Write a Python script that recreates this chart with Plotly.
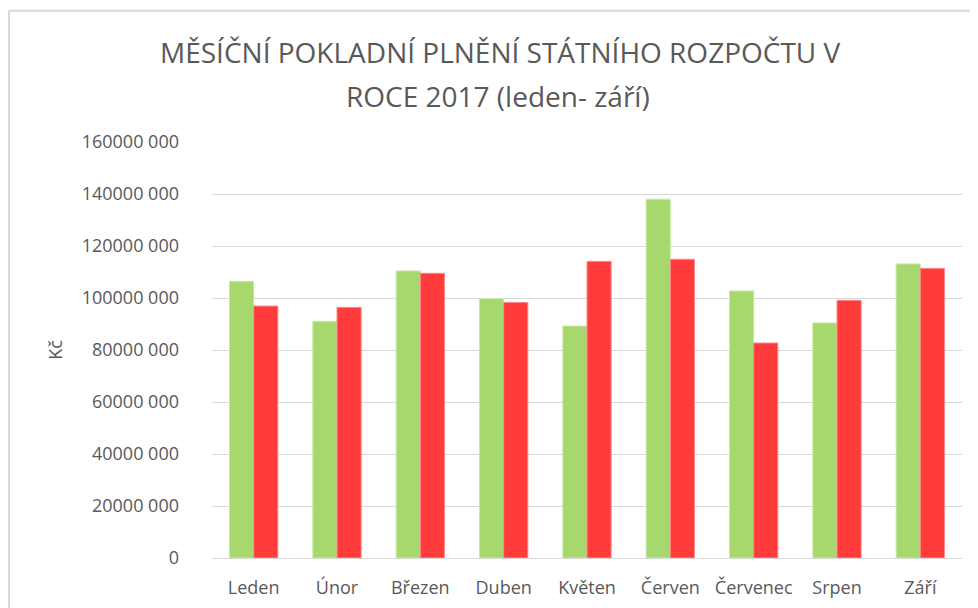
import plotly.graph_objects as go

months = ["Leden", "Únor", "Březen", "Duben", "Květen", "Červen", "Červenec", "Srpen", "Září"]
series_green = [106.4e6, 91.0e6, 110.4e6, 99.7e6, 89.2e6, 138.0e6, 102.7e6, 90.4e6, 113.1e6]
series_red = [96.9e6, 96.4e6, 109.5e6, 98.3e6, 114.1e6, 114.9e6, 82.7e6, 99.1e6, 111.4e6]
y_tickvals = [0, 20e6, 40e6, 60e6, 80e6, 100e6, 120e6, 140e6, 160e6]
y_ticktext = ["0", "20000 000", "40000 000", "60000 000", "80000 000",
              "100000 000", "120000 000", "140000 000", "160000 000"]
title_lines = ["MĚSÍČNÍ POKLADNÍ PLNĚNÍ STÁTNÍHO ROZPOČTU V", "ROCE 2017 (leden- září)"]
y_title = "Kč"

FONT = "Open Sans, DejaVu Sans, sans-serif"
GRAY = "#595959"

# page body has an 8px margin; work in reference pixel coords and shift
OFF = 8
W, H = 978 - OFF, 608 - OFF
px_left, px_right, px_top, px_bottom = 212, 962, 142.3, 558.3
L = px_left - OFF
R = W - (px_right - OFF)
T = px_top - OFF
B = H - (px_bottom - OFF)
pw, ph = W - L - R, H - T - B

def px_x(x):
    return (x - OFF - L) / pw

def px_y(y):
    return (H - B - (y - OFF)) / ph

fig = go.Figure()
fig.add_trace(go.Bar(x=months, y=series_green, name="Příjmy",
                     marker=dict(color="#A6D86E", line=dict(color="#C8E8A6", width=1))))
fig.add_trace(go.Bar(x=months, y=series_red, name="Výdaje",
                     marker=dict(color="#FF3B3B", line=dict(color="#FF8A8A", width=1))))

tick_font = dict(size=18, color=GRAY, family=FONT, weight=400)

fig.update_layout(
    width=W, height=H,
    margin=dict(l=L, r=R, t=T, b=B, pad=0, autoexpand=False),
    paper_bgcolor="white", plot_bgcolor="white",
    barmode="group", bargap=0.42, bargroupgap=0,
    showlegend=False,
    font=dict(family=FONT, color=GRAY, size=18),
    xaxis=dict(showgrid=False, showline=True, linecolor="#D9D9D9", linewidth=1,
               ticks="", tickfont=tick_font, ticklabelstandoff=13, automargin=False),
    yaxis=dict(range=[0, 160e6], tickvals=y_tickvals, ticktext=y_ticktext,
               showgrid=True, gridcolor="#D9D9D9", gridwidth=1, zeroline=False,
               showline=False, ticks="", ticklen=0, automargin=False,
               tickfont=tick_font, ticklabelstandoff=32),
    annotations=[
        dict(text=title_lines[0], xref="paper", yref="paper", x=px_x(500), y=px_y(52),
             xanchor="center", yanchor="middle", showarrow=False,
             font=dict(family=FONT, size=28, color=GRAY, weight=400)),
        dict(text=title_lines[1], xref="paper", yref="paper", x=px_x(498), y=px_y(96),
             xanchor="center", yanchor="middle", showarrow=False,
             font=dict(family=FONT, size=28, color=GRAY, weight=400)),
        dict(text=y_title, xref="paper", yref="paper", x=px_x(55), y=px_y(350),
             xanchor="center", yanchor="middle", showarrow=False, textangle=-90,
             font=dict(family=FONT, size=18, color=GRAY, weight=400)),
    ],
    shapes=[
        dict(type="line", xref="paper", yref="paper",
             x0=px_x(9), x1=px_x(9), y0=px_y(620), y1=px_y(11),
             line=dict(color="#D9D9D9", width=2)),
        dict(type="line", xref="paper", yref="paper",
             x0=px_x(9), x1=px_x(990), y0=px_y(11), y1=px_y(11),
             line=dict(color="#D9D9D9", width=2)),
    ],
)

fig.write_html("out.html")
